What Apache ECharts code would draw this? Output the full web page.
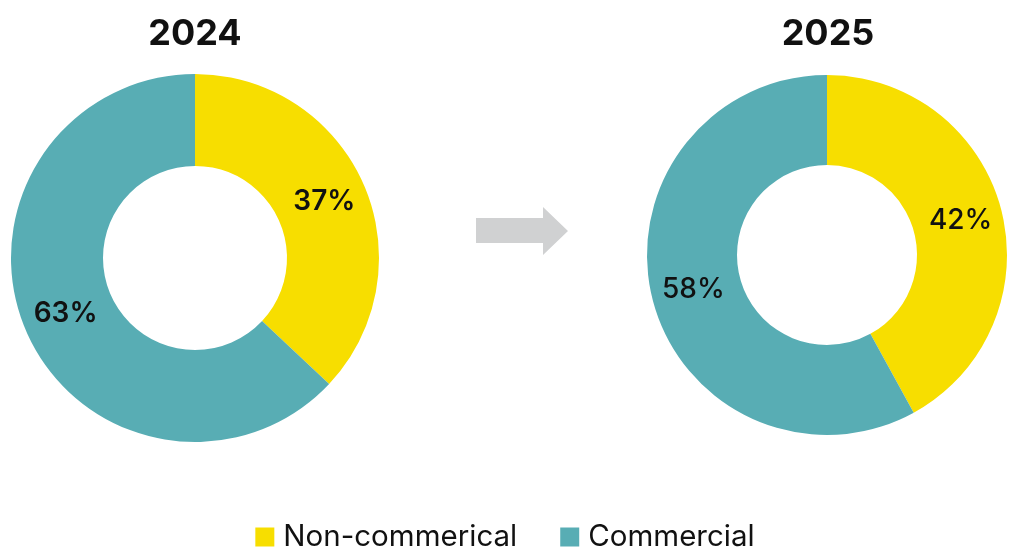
<!DOCTYPE html>
<html>
<head>
<meta charset="utf-8">
<script src="https://cdn.jsdelivr.net/npm/echarts@6/dist/echarts.min.js"></script>
<style>
html,body{margin:0;padding:0;background:#fff;}
#chart{width:1010px;height:550px;}
</style>
</head>
<body>
<div id="chart"></div>
<script>
const categories = ['Non-commerical', 'Commercial'];
const years = ['2024', '2025'];
const values2024 = [37, 63];
const values2025 = [42, 58];
const colors = ['#F7DE00', '#58ADB4'];

const chart = echarts.init(document.getElementById('chart'), null, {renderer: 'canvas'});

function pieData(vals) {
  return categories.map((c, i) => ({name: c, value: vals[i]}));
}

const labelStyle = (weight) => ({
  show: true,
  position: 'inside',
  formatter: '{c}%',
  color: '#111',
  fontFamily: 'Inter',
  fontSize: 28,
  fontWeight: weight
});

const titleStyle = {fontFamily: 'Inter', fontWeight: 'bold', fontSize: 36, color: '#111'};

const option = {
  animation: false,
  color: colors,
  title: [
    {text: years[0], left: 190, top: 11, textAlign: 'center', textStyle: titleStyle},
    {text: years[1], left: 823, top: 11, textAlign: 'center', textStyle: titleStyle}
  ],
  legend: {
    data: categories,
    top: 517,
    left: 'center',
    icon: 'rect',
    itemWidth: 19,
    itemHeight: 19,
    itemGap: 43,
    textStyle: {fontFamily: 'Inter', fontSize: 29.5, color: '#111', padding: [0, 0, 0, 4]}
  },
  graphic: [{
    type: 'polygon',
    shape: {points: [[476,218],[543,218],[543,207],[568,231],[543,255],[543,243],[476,243]]},
    style: {fill: '#D0D1D2'}
  }],
  series: [
    {
      type: 'pie',
      center: [195, 258],
      radius: [92, 184],
      startAngle: 90,
      clockwise: true,
      data: pieData(values2024),
      label: labelStyle(600),
      labelLine: {show: false},
      itemStyle: {borderWidth: 0},
      emphasis: {disabled: true}
    },
    {
      type: 'pie',
      center: [827, 255],
      radius: [90, 180],
      startAngle: 90,
      clockwise: true,
      data: pieData(values2025),
      label: labelStyle(500),
      labelLine: {show: false},
      itemStyle: {borderWidth: 0},
      emphasis: {disabled: true}
    }
  ]
};
chart.setOption(option);
</script>
</body>
</html>
